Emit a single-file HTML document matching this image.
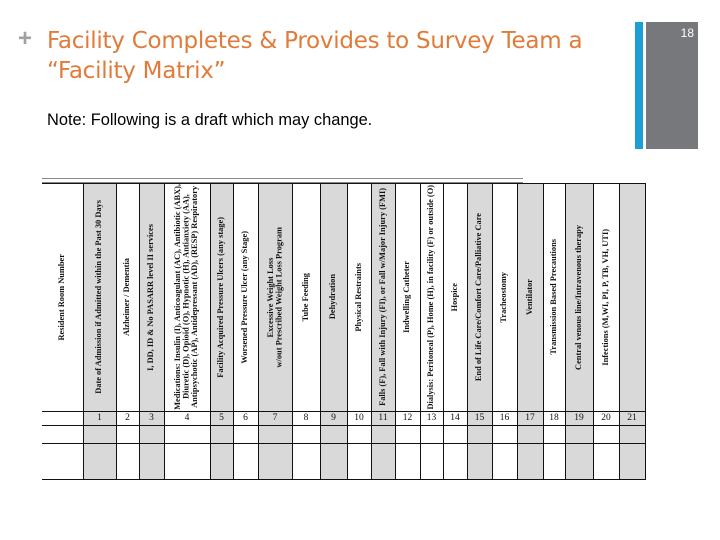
<!DOCTYPE html>
<html><head><meta charset="utf-8"><style>
body{margin:0;width:720px;height:540px;background:#fff;position:relative;overflow:hidden;font-family:"Liberation Sans",sans-serif}
.abs{position:absolute}
.col{position:absolute;top:183px;height:297px}
.hd{position:absolute;top:183px;height:228px;display:flex;align-items:center;justify-content:center}
.hd span{writing-mode:vertical-rl;transform:rotate(180deg);font-family:"Liberation Serif",serif;font-size:8.4px;line-height:8.4px;text-align:center;white-space:nowrap;color:#111;font-weight:bold}
.num{position:absolute;top:411px;height:14px;font-family:"Liberation Serif",serif;font-size:9.5px;text-align:center;line-height:14px;color:#111}
.vl{position:absolute;top:183px;height:297px;width:1px;background:#111}
.hl{position:absolute;left:42px;width:603px;height:1px;background:#111}
</style></head><body>
<div class="abs" style="left:18px;top:27px;color:#a0a0a0;font-size:24px;font-weight:bold;line-height:24px">+</div>
<div class="abs" style="left:47px;top:26px;color:#e07b39;font-size:23px;line-height:30px;font-family:'DejaVu Sans','Liberation Sans',sans-serif;letter-spacing:-0.25px">Facility Completes &amp; Provides to Survey Team a<br>“Facility Matrix”</div>
<div class="abs" style="left:47px;top:111px;font-size:16.4px;color:#000">Note: Following is a draft which may change.</div>
<div class="abs" style="left:635px;top:22px;width:8px;height:127px;background:#1a9fd6"></div>
<div class="abs" style="left:646px;top:22px;width:52px;height:127px;background:#77787b"></div>
<div class="abs" style="left:672px;top:26px;width:22px;text-align:right;color:#fff;font-size:12px">18</div>
<div class="abs" style="left:42px;top:178px;width:481px;height:3px;border-top:1px solid #888;border-bottom:1px solid #888"></div>
<div id="tbl"></div>
<script>
const edges=[42,83,116,139,164,210,233,258,292,320,347,371,395,420,443,467,492,517,543,565,593,619,645];
const gray=[0,1,0,1,0,1,0,1,0,1,0,1,0,0,0,1,0,1,0,1,0,1];
const labels=["Resident Room Number","Date of Admission if Admitted within the Past 30 Days","Alzheimer / Dementia","I, DD, ID &amp; No PASARR level II services","Medications: Insulin (I), Anticoagulant (AC), Antibiotic (ABX),<br>Diuretic (D), Opioid (O), Hypnotic (H), Antianxiety (AA),<br>Antipsychotic (AP), Antidepressant (AD), (RESP) Respiratory","Facility Acquired Pressure Ulcers (any stage)","Worsened Pressure Ulcer (any Stage)","Excessive Weight Loss<br>w/out Prescribed Weight Loss Program","Tube Feeding","Dehydration","Physical Restraints","Falls (F), Fall with Injury (FI), or Fall w/Major Injury (FMI)","Indwelling Catheter","Dialysis: Peritoneal (P), Home (H), in facility (F) or outside (O)","Hospice","End of Life Care/Comfort Care/Palliative Care","Tracheostomy","Ventilator","Transmission Based Precautions","Central venous line/Intravenous therapy","Infections (M,WI, PI, P, TB, VH, UTI)",""];
const nums=["","1","2","3","4","5","6","7","8","9","10","11","12","13","14","15","16","17","18","19","20","21"];
const t=document.getElementById('tbl');
let h='';
for(let i=0;i<gray.length;i++){
 const l=edges[i],w=edges[i+1]-l;
 if(gray[i])h+=`<div class="col" style="left:${l}px;width:${w}px;background:#d9d9d9"></div>`;
 h+=`<div class="hd" style="left:${l}px;width:${w}px"><span>${labels[i]}</span></div>`;
 h+=`<div class="num" style="left:${l}px;width:${w}px">${nums[i]}</div>`;
}
for(let i=1;i<edges.length;i++)h+=`<div class="vl" style="left:${edges[i]}px"></div>`;
[183,411,425,443,479].forEach(y=>{h+=`<div class="hl" style="top:${y}px"></div>`;});
t.innerHTML=h;
</script>
</body></html>
